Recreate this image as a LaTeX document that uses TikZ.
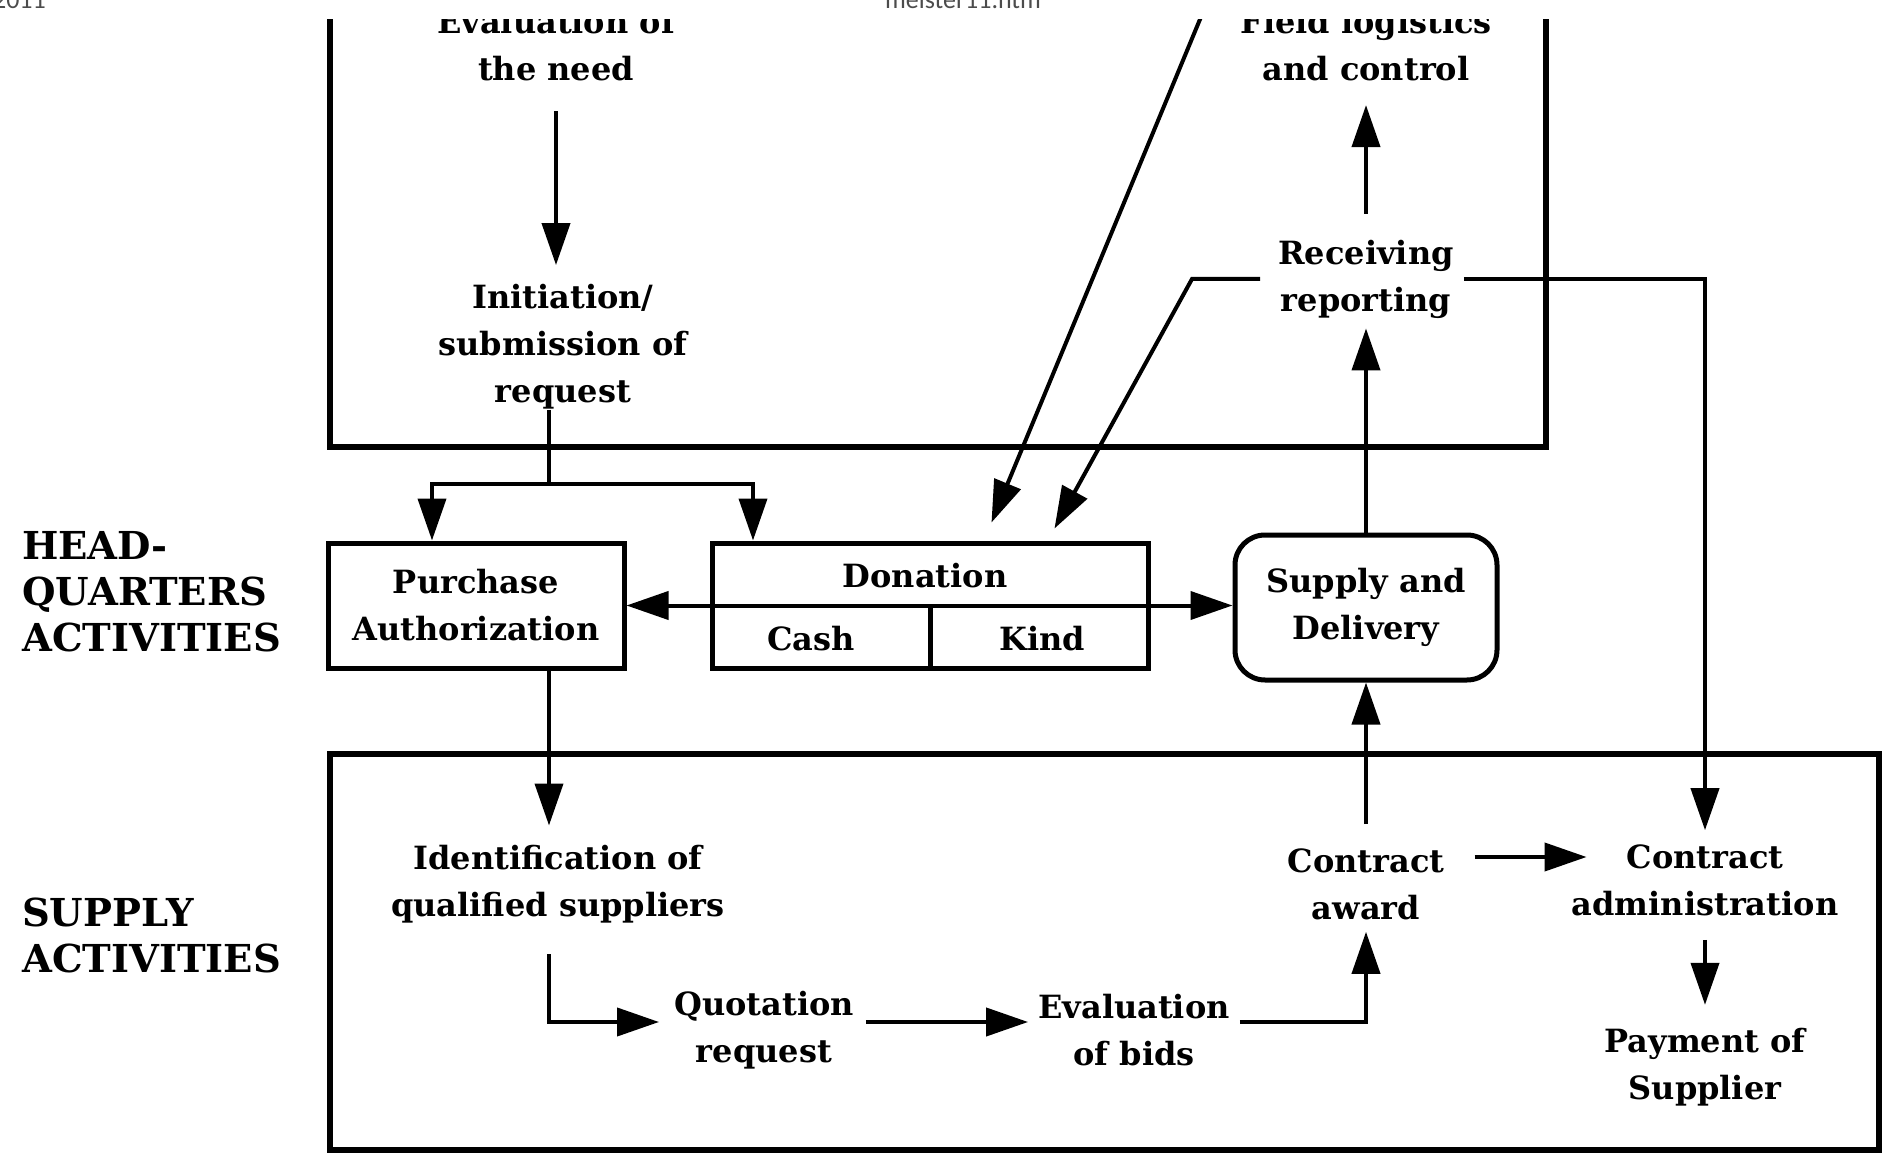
\documentclass[tikz,border=0pt]{standalone}
\usepackage{fontspec}
\newfontfamily\diafont{DejaVu Serif}
\newfontfamily\hdrfont{Carlito}
\usetikzlibrary{arrows.meta}
\begin{document}
\begin{tikzpicture}[x=1pt,y=-1pt,
  txt/.style={font=\diafont\bfseries\fontsize{32}{47}\selectfont, align=center, inner sep=0pt},
  lab/.style={font=\diafont\bfseries\fontsize{38.5}{46}\selectfont, align=left, inner sep=0pt, anchor=west},
  hdr/.style={font=\hdrfont\fontsize{26}{30}\selectfont, text=black!70, inner sep=0pt},
  boxline/.style={draw, line width=5pt},
  conn/.style={line width=4pt},
  arr/.style={conn, -{Triangle[length=42pt,width=28pt]}},
  darr/.style={conn, {Triangle[length=42pt,width=28pt]}-{Triangle[length=42pt,width=28pt]}},
  frame/.style={line width=6pt},
]
\useasboundingbox (0,0) rectangle (1883,1155);

% page header (cut off by the top edge, as in the scan)
\node[hdr, anchor=base east] (hdrdate) at (46,9) {2011};
\node[hdr, anchor=base] (hdrfile) at (963,9) {meister11.htm};

\begin{scope}
\clip (0,20) rectangle (1883,1155);

% frames
\draw[frame] (330,0) -- (330,447) -- (1546,447) -- (1546,0);
\draw[frame] (330,754) rectangle (1879,1150);

% side labels
\node[lab] (hq) at (22,592) {HEAD-\\QUARTERS\\ACTIVITIES};
\node[lab] (sa) at (22,935) {SUPPLY\\ACTIVITIES};

% upper (field) nodes
\node[txt] (need) at (556,45) {Evaluation of\\the need};
\node[txt] (init) at (563,347) {Initiation/\\submission of\\request};
\node[txt] (field) at (1366,45) {Field logistics\\and control};
\node[txt] (rec) at (1366,279) {Receiving\\reporting};

% headquarters nodes
\node[txt, boxline, minimum width=296pt, minimum height=125pt] (pa) at (476,605.5) {Purchase\\Authorization};
\node[boxline, minimum width=436pt, minimum height=125pt, inner sep=0pt] (don) at (930,605.5) {};
\node[txt] (dontxt) at (925,576) {Donation};
\node[txt] (cash) at (811,639) {Cash};
\node[txt] (kind) at (1042,639) {Kind};
\node[txt, boxline, rounded corners=30pt, minimum width=262pt, minimum height=145pt] (sup) at (1366,607.5) {Supply and\\Delivery};

% supply nodes
\node[txt] (ident) at (558,884) {Identification of\\qualified suppliers};
\node[txt] (quot) at (764,1030) {Quotation\\request};
\node[txt] (evalb) at (1134,1030) {Evaluation\\of bids};
\node[txt] (award) at (1366,884) {Contract\\award};
\node[txt] (admin) at (1705,880) {Contract\\administration};
\node[txt] (pay) at (1705,1067) {Payment of\\Supplier};

% helper coordinates
\coordinate (fieldin) at (1208,0);
\coordinate (recbend) at (1192,279);
\coordinate (barL) at (432,484);
\coordinate (barR) at (753,484);

% connectors
\draw[arr] ([yshift=-30pt]need.south) -- ++(0,154);
\draw[conn] ([xshift=-14pt]init.south) -- ++(0,75);
\draw[darr] (barL |- pa.north) -- (barL) -- (barR) -- (barR |- don.north);
\draw[arr] (fieldin) -- ([xshift=282pt,yshift=18pt]don.north west);
\draw[arr] ([xshift=-18pt]rec.west) -- (recbend) -- ([xshift=345pt,yshift=12pt]don.north west);
\draw[arr] ([yshift=26pt]rec.north) -- ([yshift=-24pt]field.south);
\draw[arr] (sup.north) -- ([yshift=-10pt]rec.south);
\draw[arr] ([xshift=10pt]rec.east) -| ([yshift=14pt]admin.north);
\draw[darr] (pa.east) -- (pa.east -| sup.west);
\draw[boxline] (don.south) -- (don.center);
\draw[arr] ([xshift=73pt]pa.south) -- ++(0,155);
\draw[arr] ([xshift=-9pt,yshift=-31pt]ident.south) |- ([xshift=-15pt,yshift=8pt]quot.west);
\draw[arr] ([xshift=12pt,yshift=8pt]quot.east) -- ([xshift=-10pt,yshift=8pt]evalb.west);
\draw[arr] ([xshift=10pt,yshift=8pt]evalb.east) -| ([yshift=-12pt]award.south);
\draw[arr] ([yshift=24pt]award.north) -- (sup.south);
\draw[arr] ([xshift=30pt,yshift=27pt]award.east) -- ++(112,0);
\draw[arr] ([yshift=-24pt]admin.south) -- ([yshift=23pt]pay.north);
\end{scope}
\end{tikzpicture}
\end{document}
